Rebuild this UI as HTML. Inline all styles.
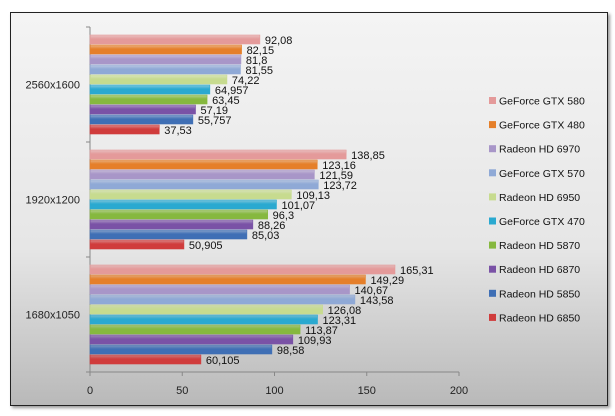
<!DOCTYPE html>
<html><head><meta charset="utf-8"><style>
body{margin:0;width:615px;height:416px;background:#fff;font-family:"Liberation Sans",sans-serif;overflow:hidden}
#frame{position:absolute;left:10px;top:12px;width:596px;height:392px;border:1px solid #222;background:linear-gradient(#f4f4f4,#e6e6e6 60%,#b9b9b9);box-shadow:2px 2px 3px #999}
</style></head><body>
<div id="frame"></div>
<svg id="chart" width="615" height="416" style="position:absolute;left:0;top:0"></svg>
<script>
const categories=["2560x1600","1920x1200","1680x1050"];
const seriesNames=["Radeon HD 6850","Radeon HD 5850","Radeon HD 6870","Radeon HD 5870","GeForce GTX 470","Radeon HD 6950","GeForce GTX 570","Radeon HD 6970","GeForce GTX 480","GeForce GTX 580"];
const labels2560=["37,53","55,757","57,19","63,45","64,957","74,22","81,55","81,8","82,15","92,08"];
const labels1920=["50,905","85,03","88,26","96,3","101,07","109,13","123,72","121,59","123,16","138,85"];
const labels1680=["60,105","98,58","109,93","113,87","123,31","126,08","143,58","140,67","149,29","165,31"];
const values2560=[37.53,55.757,57.19,63.45,64.957,74.22,81.55,81.8,82.15,92.08];
const values1920=[50.905,85.03,88.26,96.3,101.07,109.13,123.72,121.59,123.16,138.85];
const values1680=[60.105,98.58,109.93,113.87,123.31,126.08,143.58,140.67,149.29,165.31];
const ticks=[0,50,100,150,200];
const colors=["#d03c3c","#3f6fb5","#7a52a6","#86b83f","#2aa9d0","#c7db8f","#8fa9d6","#a896c8","#e57f2a","#e49a9a"];
const values=[values2560,values1920,values1680];
const labels=[labels2560,labels1920,labels1680];
const svg=document.getElementById('chart');
const NS="http://www.w3.org/2000/svg";
const x0=90,x1=459,yTop=27,yBot=372,bandH=(yBot-yTop)/categories.length;
const xs=v=>x0+(v-ticks[0])/(ticks[ticks.length-1]-ticks[0])*(x1-x0);
function mk(t,a,p){const e=document.createElementNS(NS,t);for(const k in a)e.setAttribute(k,a[k]);(p||svg).appendChild(e);return e;}
const defs=mk('defs',{});
colors.forEach((c,i)=>{const g=mk('linearGradient',{id:'g'+i,x1:0,y1:0,x2:0,y2:1},defs);
mk('stop',{offset:'0','stop-color':c,'stop-opacity':'0.55'},g);mk('stop',{offset:'0.45','stop-color':c},g);mk('stop',{offset:'1','stop-color':c,'stop-opacity':'1'},g);});
// axes
let ax=mk('line',{x1:x0,y1:yBot,x2:x1,y2:yBot,stroke:'#888'});

let ay=mk('line',{x1:x0,y1:yTop,x2:x0,y2:yBot,stroke:'#888'});

ticks.forEach(t=>{const x=xs(t);mk('line',{x1:x,y1:yBot,x2:x,y2:yBot+4,stroke:'#888'});
const tx=mk('text',{x:x,y:yBot+22,'font-size':11,'text-anchor':'middle',fill:'#222'});tx.textContent=t;
});
for(let i=0;i<=categories.length;i++){const y=yTop+i*bandH;mk('line',{x1:x0-4,y1:y,x2:x0,y2:y,stroke:'#888'});}
const barH=10;
categories.forEach((c,ci)=>{
const yc=yTop+ci*bandH+bandH/2;
const ct=mk('text',{x:80,y:yc+4,'font-size':11,'text-anchor':'end',fill:'#222'});ct.textContent=c;

const n=seriesNames.length,gTop=yc-n*barH/2;
for(let s=0;s<n;s++){const v=values[ci][s];const y=gTop+(n-1-s)*barH;
const r=mk('rect',{x:x0,y:y+0.5,width:xs(v)-x0,height:barH-1,fill:'url(#g'+s+')',stroke:colors[s],'stroke-width':0.6});

const t=mk('text',{x:xs(v)+5,y:y+barH-0.5,'font-size':11,fill:'#111'});t.textContent=labels[ci][s];
}
});
// legend
seriesNames.slice().reverse().forEach((nm,i)=>{const s=seriesNames.length-1-i;const y=101+i*24.1;
const g=mk('g',{});
mk('rect',{x:489,y:y-4,width:7,height:7,fill:colors[s]},g);
const t=mk('text',{x:499,y:y+3.5,'font-size':10.5,fill:'#111'},g);t.textContent=nm;});
</script>
</body></html>
